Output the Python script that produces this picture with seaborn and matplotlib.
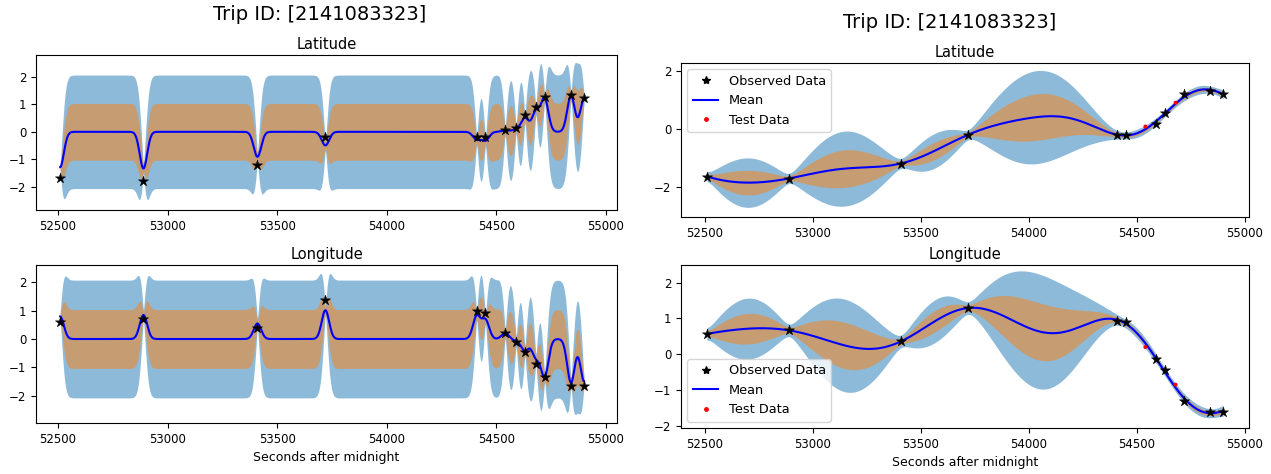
import numpy as np
import pandas as pd
import matplotlib
matplotlib.use("Agg")
import matplotlib.pyplot as plt
import seaborn as sns
from matplotlib.lines import Line2D

# ---------------- data ----------------
trip_title = "Trip ID: [2141083323]"

# left figure: all observations (stars)
t_all = [52510, 52890, 53410, 53720, 54410, 54450, 54540, 54590, 54630, 54680, 54720, 54840, 54900]
lat_all = [-1.70, -1.78, -1.22, -0.20, -0.20, -0.20, 0.07, 0.15, 0.60, 0.90, 1.27, 1.33, 1.22]
lon_all = [0.60, 0.70, 0.40, 1.38, 0.97, 0.93, 0.22, -0.12, -0.45, -0.88, -1.32, -1.65, -1.65]
# left figure: levels reached by the GP mean at those times
lat_fit_left = [-1.30, -1.35, -0.92, -0.50, -0.30, -0.33, 0.05, 0.12, 0.52, 0.82, 1.25, 1.33, 1.22]
lon_fit_left = [0.80, 0.85, 0.55, 1.02, 0.85, 0.72, 0.20, -0.08, -0.42, -0.72, -1.35, -1.55, -1.50]

# right figure: observed (stars) and held-out test data (red dots)
t_obs = [52510, 52890, 53410, 53720, 54410, 54450, 54590, 54630, 54720, 54840, 54900]
lat_obs = [-1.65, -1.72, -1.20, -0.20, -0.20, -0.20, 0.15, 0.55, 1.20, 1.30, 1.20]
lon_obs = [0.57, 0.67, 0.36, 1.30, 0.92, 0.90, -0.14, -0.44, -1.31, -1.60, -1.60]
t_test = [54540, 54680]
lat_test = [0.08, 0.90]
lon_test = [0.20, -0.85]

# GP hyper-parameters (lengthscale [s], signal variance, noise variance)
gp_left = dict(ell=17.0, var=1.07, noise=0.01)
gp_right = dict(ell=240.0, var=1.06, noise=0.008)


def gp_posterior(xt, yt, xs, ell, var, noise):
    xt = np.asarray(xt, float); yt = np.asarray(yt, float)
    k = lambda a, b: var * np.exp(-0.5 * (a[:, None] - b[None, :]) ** 2 / ell ** 2)
    K = k(xt, xt) + noise * np.eye(len(xt))
    Ks = k(xs, xt)
    L = np.linalg.cholesky(K)
    alpha = np.linalg.solve(L.T, np.linalg.solve(L, yt))
    mu = Ks @ alpha
    v = np.linalg.solve(L, Ks.T)
    sd = np.sqrt(np.clip(var - np.sum(v ** 2, axis=0), 1e-12, None))
    return mu, sd


W, H = 1271, 474
fig = plt.figure(figsize=(W / 100, H / 100), dpi=100)


def rect(x0, y0, x1, y1):
    return [x0 / W, 1 - y1 / H, (x1 - x0) / W, (y1 - y0) / H]


def draw(ax, xt, yt, pts_t, pts_y, gp, title, legend_loc=None, test=None, xlabel=None):
    grid = np.linspace(min(xt), max(xt), 2400)
    mu, sd = gp_posterior(xt, yt, grid, **gp)
    ax.fill_between(grid, mu - 2 * sd, mu + 2 * sd, color="C0", alpha=0.5, lw=0)
    ax.fill_between(grid, mu - sd, mu + sd, color="C1", alpha=0.5, lw=0)
    sns.lineplot(x=grid, y=mu, color="b", lw=1.5, ax=ax, sort=False)
    df = pd.DataFrame({"t": pts_t, "y": pts_y})
    sns.scatterplot(data=df, x="t", y="y", marker="*", color="k", s=60, ax=ax,
                    edgecolor="k", linewidth=0.3, zorder=5)
    if test is not None:
        dft = pd.DataFrame({"t": test[0], "y": test[1]})
        sns.scatterplot(data=dft, x="t", y="y", marker="o", color="r", s=8, ax=ax,
                        edgecolor="none", zorder=4)
    ax.set_title(title, fontsize=10.5, pad=4)
    ax.set_xlabel(xlabel if xlabel else "", fontsize=9)
    ax.set_ylabel("")
    ax.tick_params(labelsize=8.5)
    if legend_loc:
        handles = [Line2D([], [], marker="*", color="k", ls="none", ms=6),
                   Line2D([], [], color="b", lw=1.5),
                   Line2D([], [], marker=".", color="r", ls="none", ms=5)]
        ax.legend(handles, ["Observed Data", "Mean", "Test Data"], loc=legend_loc, fontsize=9.3)


# left figure
ax1 = fig.add_axes(rect(36, 55, 617, 210))
draw(ax1, t_all, lat_fit_left, t_all, lat_all, gp_left, "Latitude")
ax1.set_xlim(52400, 55050)
ax1.set_ylim(-2.85, 2.8)
ax2 = fig.add_axes(rect(36, 265, 617, 423))
draw(ax2, t_all, lon_fit_left, t_all, lon_all, gp_left, "Longitude", xlabel="Seconds after midnight")
ax2.set_xlim(52400, 55050)
ax2.set_ylim(-2.95, 2.6)
fig.text(320 / W, 1 - 15 / H, trip_title, ha="center", va="center", fontsize=14)

# right figure
ax3 = fig.add_axes(rect(681, 63, 1249, 217))
draw(ax3, t_obs, lat_obs, t_obs, lat_obs, gp_right, "Latitude", legend_loc="upper left",
     test=(t_test, lat_test))
ax3.set_ylim(-3.04, 2.27)
ax3.set_yticks([-2, 0, 2])
ax4 = fig.add_axes(rect(681, 265, 1249, 428))
draw(ax4, t_obs, lon_obs, t_obs, lon_obs, gp_right, "Longitude", legend_loc="lower left",
     test=(t_test, lon_test), xlabel="Seconds after midnight")
ax4.set_ylim(-2.06, 2.49)
for ax in (ax3, ax4):
    ax.set_xlim(52390, 55020)
fig.text(950 / W, 1 - 22 / H, trip_title, ha="center", va="center", fontsize=14)

for ax in (ax1, ax2, ax3, ax4):
    ax.set_xticks([52500, 53000, 53500, 54000, 54500, 55000])

fig.savefig("out.png", dpi=100)
